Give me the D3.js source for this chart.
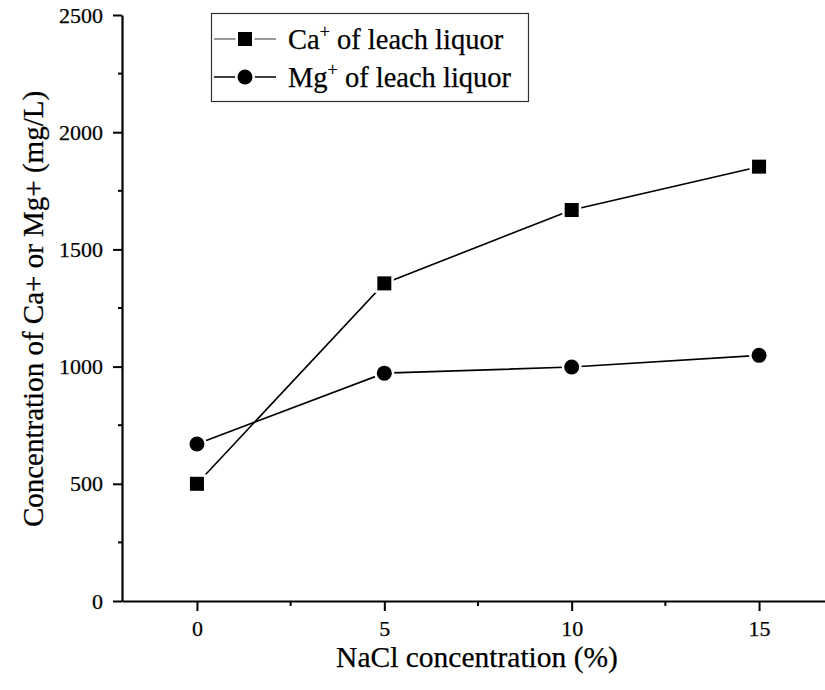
<!DOCTYPE html>
<html>
<head>
<meta charset="utf-8">
<script src="https://cdn.jsdelivr.net/npm/d3@7"></script>
<style>
  html, body { margin: 0; padding: 0; background: #fff; }
  svg { display: block; }
  svg text { font-family: "Liberation Serif", "DejaVu Serif", serif; fill: #000; stroke: #000; stroke-width: 0.25px; }
</style>
</head>
<body>
<svg id="chart" width="825" height="690"></svg>
<script>
// NaCl concentration (%) on the x axis
const nacl = [0, 5, 10, 15];
// Ion concentrations in the leach liquor (mg/L)
const caValues = [500, 1355, 1668, 1853];
const mgValues = [670, 972, 998, 1048];
// Axis ticks
const xTicks = [0, 5, 10, 15];
const xMinorTicks = [2.5, 7.5, 12.5];
const yTicks = [0, 500, 1000, 1500, 2000, 2500];
const yMinorTicks = [250, 750, 1250, 1750, 2250];
const seriesNames = ["Ca", "Mg"];

const serif = "'Liberation Serif', 'DejaVu Serif', serif";
const svg = d3.select("#chart");

const x = d3.scaleLinear().domain([-2, 17]).range([122, 834]);
const y = d3.scaleLinear().domain([0, 2500]).range([601, 15]);

// ---- axes ----
const xAxis = d3.axisBottom(x).tickValues(xTicks).tickFormat(d3.format("d"))
  .tickSize(10).tickSizeOuter(0).tickPadding(9);
const yAxis = d3.axisLeft(y).tickValues(yTicks).tickFormat(d3.format("d"))
  .tickSize(9).tickSizeOuter(0).tickPadding(10);

const gx = svg.append("g").attr("transform", `translate(0,${y(0)})`).call(xAxis);
const gy = svg.append("g").attr("transform", `translate(${x(-2)},0)`).call(yAxis);

[gx, gy].forEach(g => {
  g.attr("font-family", serif).attr("font-size", 22);
  g.select(".domain").attr("stroke", "#000").attr("stroke-width", 2.2);
  g.selectAll(".tick line").attr("stroke", "#000").attr("stroke-width", 2);
  g.selectAll(".tick text").attr("fill", "#000").style("font-size", "22px");
});

// minor ticks
gx.selectAll(".minor").data(xMinorTicks).enter().append("line")
  .attr("x1", d => x(d)).attr("x2", d => x(d))
  .attr("y1", 0).attr("y2", 5)
  .attr("stroke", "#000").attr("stroke-width", 2);
gy.selectAll(".minor").data(yMinorTicks).enter().append("line")
  .attr("y1", d => y(d)).attr("y2", d => y(d))
  .attr("x1", 0).attr("x2", -4)
  .attr("stroke", "#000").attr("stroke-width", 2);

// axis titles
svg.append("text")
  .attr("x", 477).attr("y", 667)
  .attr("text-anchor", "middle")
  .style("font-size", "29.5px")
  .text("NaCl concentration (%)");

svg.append("text")
  .attr("transform", "translate(43,309) rotate(-90)")
  .attr("text-anchor", "middle")
  .style("font-size", "29px")
  .text("Concentration of Ca+ or Mg+ (mg/L)");

// ---- series ----
const series = [
  { name: seriesNames[0], values: caValues, marker: "square" },
  { name: seriesNames[1], values: mgValues, marker: "circle" }
];

const line = d3.line().x(d => x(d[0])).y(d => y(d[1]));

series.forEach(s => {
  const pts = nacl.map((n, i) => [n, s.values[i]]);
  svg.append("path")
    .attr("d", line(pts))
    .attr("fill", "none")
    .attr("stroke", "#000")
    .attr("stroke-width", 1.6);
});

function drawMarker(g, type, cx, cy, halo) {
  if (type === "square") {
    const s = 14 + (halo ? 5 : 0);
    g.append("rect")
      .attr("x", cx - s / 2).attr("y", cy - s / 2)
      .attr("width", s).attr("height", s)
      .attr("fill", halo ? "#fff" : "#000");
  } else {
    g.append("circle")
      .attr("cx", cx).attr("cy", cy)
      .attr("r", 7.5 + (halo ? 2.5 : 0))
      .attr("fill", halo ? "#fff" : "#000");
  }
}

const markers = svg.append("g");
series.forEach(s => {
  nacl.forEach((n, i) => drawMarker(markers, s.marker, x(n), y(s.values[i]), true));
});
series.forEach(s => {
  nacl.forEach((n, i) => drawMarker(markers, s.marker, x(n), y(s.values[i]), false));
});

// ---- legend ----
const legend = svg.append("g");
legend.append("rect")
  .attr("x", 211.5).attr("y", 13.5)
  .attr("width", 317).attr("height", 88)
  .attr("fill", "#fff")
  .attr("stroke", "#333").attr("stroke-width", 1.2);

const rows = [
  { s: series[0], cy: 39, color: "#777", label: "Ca" },
  { s: series[1], cy: 77, color: "#000", label: "Mg" }
];
rows.forEach(r => {
  legend.append("line")
    .attr("x1", 214).attr("x2", 276)
    .attr("y1", r.cy).attr("y2", r.cy)
    .attr("stroke", r.color).attr("stroke-width", 1.4);
  drawMarker(legend, r.s.marker, 245, r.cy, true);
  drawMarker(legend, r.s.marker, 245, r.cy, false);
  const t = legend.append("text")
    .attr("x", 288).attr("y", r.cy + 10)
    .style("font-size", "28.5px");
  t.append("tspan").text(r.label);
  t.append("tspan").attr("dy", -11).style("font-size", "18px").text("+");
  t.append("tspan").attr("dy", 11).text(" of leach liquor");
});
</script>
</body>
</html>
